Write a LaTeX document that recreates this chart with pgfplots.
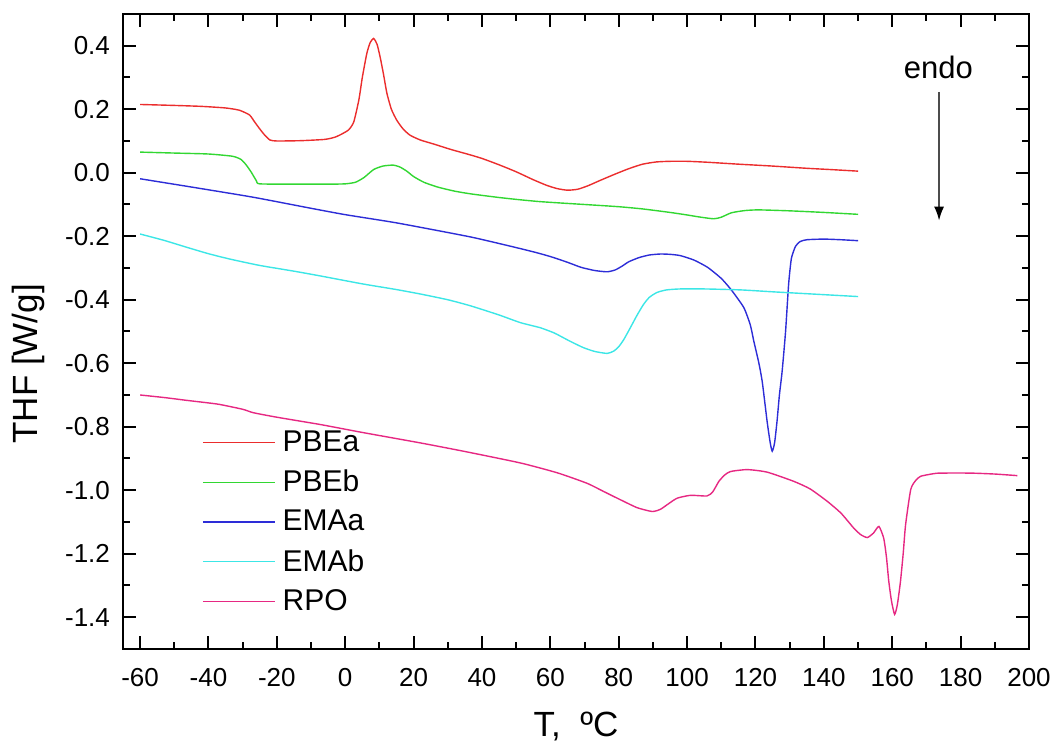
\documentclass[border=0pt]{standalone}
\usepackage{pgfplots}
\pgfplotsset{compat=1.18}
\usepackage{fontspec}
\setmainfont{Liberation Sans}
\usetikzlibrary{arrows.meta}
\definecolor{cPBEa}{RGB}{235,45,45}
\definecolor{cPBEb}{RGB}{50,215,50}
\definecolor{cEMAa}{RGB}{45,45,215}
\definecolor{cEMAb}{RGB}{60,230,230}
\definecolor{cRPO}{RGB}{230,40,130}
\newcommand{\lf}{\fontsize{15}{17}\selectfont}
\begin{document}
\begin{tikzpicture}
\path[use as bounding box] (-61.5pt,-46.5pt) rectangle (464pt,324.5pt);
\begin{axis}[
  at={(0pt,0pt)}, anchor=south west,
  scale only axis, width=453pt, height=317.5pt,
  xmin=-65, xmax=200, ymin=-1.5, ymax=0.5,
  xtick={-60,-40,...,200},
  ytick={-1.4,-1.2,-1.0,-0.8,-0.6,-0.4,-0.2,0.0,0.2,0.4},
  minor x tick num=1, minor y tick num=1,
  xtick pos=both, ytick pos=both,
  tick align=inside,
  major tick length=6.5pt, minor tick length=3.5pt,
  every tick/.style={black, line width=1pt},
  axis line style={line width=1pt},
  /pgf/number format/assume math mode=true,
  yticklabel style={xshift=-3pt, /pgf/number format/fixed, /pgf/number format/fixed zerofill, /pgf/number format/precision=1},
  xticklabel style={yshift=-6pt},
  tick label style={font=\fontsize{13}{15}\selectfont},
  label style={font=\fontsize{17.5}{20}\selectfont},
  xlabel={T,\ \ ºC},
  ylabel={THF [W/g]},
  xlabel style={at={(axis description cs:0.5,-0.1386)}, anchor=base},
  ylabel style={at={(axis description cs:-0.0949,0.449)}, anchor=base},
  legend style={draw=none, fill=none, at={(axis description cs:0.087,0.349)}, anchor=north west,
    nodes={inner sep=1.5pt}, row sep=4.75pt, inner sep=0pt,
    /tikz/every odd column/.append style={column sep=2pt}},
  legend cell align=left,
  legend image code/.code={\draw[#1] (0pt,0pt) -- (36pt,0pt);},
  every axis plot/.append style={line width=0.7pt, smooth, tension=0.35},
  clip=true,
]
\addplot[cPBEa] coordinates {
(-60,0.215) (-50,0.212) (-42,0.209) (-35,0.204) (-31,0.197) (-28,0.182) (-26.5,0.16)
(-25,0.138) (-23.5,0.118) (-22,0.103) (-20,0.100) (-13,0.101) (-6,0.105) (-3,0.112)
(-1,0.122) (1,0.135) (2.5,0.16) (4,0.23) (5,0.30) (6.3,0.375) (7.3,0.41) (8.3,0.423)
(9.3,0.405) (10.2,0.365) (11.2,0.31) (12.2,0.25) (13.5,0.20) (15.1,0.165) (17,0.137)
(19,0.118) (22,0.103) (26,0.09) (31,0.073) (36,0.058) (40,0.045) (45,0.025) (50,0.003)
(55,-0.022) (59,-0.040) (62,-0.050) (65,-0.055) (68,-0.052) (71,-0.041) (74.6,-0.024)
(79,-0.004) (83,0.013) (87,0.027) (91,0.034) (95,0.036) (100,0.036) (106,0.033)
(115,0.027) (125,0.021) (135,0.014) (142,0.010) (150,0.005)
};
\addlegendentry{\lf PBEa}
\addplot[cPBEb] coordinates {
(-60,0.065) (-50,0.062) (-40,0.059) (-33,0.052) (-30.5,0.042) (-29,0.025) (-27.5,0.002)
(-26,-0.025) (-25,-0.035) (-15,-0.036) (-5,-0.036) (0,-0.035) (3,-0.030) (5.5,-0.015)
(8.3,0.010) (11,0.021) (14,0.024) (16,0.018) (18,0.005) (20,-0.012) (23,-0.030)
(27,-0.045) (32,-0.058) (37,-0.067) (45,-0.078) (51,-0.085) (57,-0.091) (64,-0.096)
(70,-0.100) (80,-0.107) (87,-0.114) (95,-0.125) (100,-0.133) (104,-0.140) (107.8,-0.145)
(110,-0.140) (113,-0.126) (117,-0.119) (121,-0.117) (130,-0.120) (140,-0.125) (150,-0.131)
};
\addlegendentry{\lf PBEb}
\addplot[cEMAa] coordinates {
(-60,-0.019) (-45,-0.045) (-27,-0.077) (-10,-0.112) (0,-0.132) (14,-0.156) (25,-0.178)
(37,-0.203) (47,-0.228) (55,-0.249) (60,-0.264) (65,-0.282) (69,-0.298) (73,-0.308)
(76.6,-0.312) (79,-0.306) (81,-0.294) (83,-0.280) (86,-0.267) (89,-0.259) (92.2,-0.256)
(95,-0.257) (98,-0.261) (102,-0.275) (106,-0.298) (110,-0.333) (113,-0.37) (116.6,-0.425)
(118.5,-0.48) (119.5,-0.53) (121,-0.60) (122,-0.66) (123.4,-0.783) (124.3,-0.85)
(124.9,-0.877) (125.6,-0.85) (126.3,-0.783) (127,-0.70) (127.8,-0.625) (128.8,-0.50)
(129.7,-0.35) (130.5,-0.27) (131.7,-0.232) (133,-0.217) (135,-0.211) (140,-0.209)
(145,-0.211) (150,-0.214)
};
\addlegendentry{\lf EMAa}
\addplot[cEMAb] coordinates {
(-60,-0.193) (-53,-0.213) (-46.3,-0.235) (-40,-0.255) (-33.7,-0.272) (-25,-0.292)
(-15,-0.31) (-7.3,-0.325) (5,-0.35) (15,-0.368) (22,-0.382) (30,-0.40) (36.6,-0.419)
(45,-0.448) (51.2,-0.472) (57,-0.488) (61,-0.504) (63,-0.515) (66,-0.532) (69.7,-0.551)
(73,-0.563) (76.6,-0.569) (78.5,-0.562) (80,-0.548) (81.5,-0.525) (83.4,-0.488)
(85.4,-0.448) (87.3,-0.414) (89,-0.392) (91.2,-0.377) (94,-0.369) (98,-0.366)
(105,-0.366) (115.6,-0.369) (125,-0.375) (135,-0.381) (150,-0.39)
};
\addlegendentry{\lf EMAb}
\addplot[cRPO] coordinates {
(-60,-0.700) (-53,-0.708) (-46.3,-0.717) (-40,-0.725) (-36.6,-0.73) (-30,-0.745)
(-26.8,-0.756) (-20,-0.77) (-7.3,-0.793) (5,-0.818) (22,-0.851) (35,-0.878)
(51.2,-0.914) (62,-0.945) (70.7,-0.978) (75.6,-1.004) (80.5,-1.030) (85.4,-1.055)
(89.8,-1.067) (92.2,-1.060) (94.5,-1.043) (97.1,-1.025) (101,-1.016) (105.8,-1.018)
(107.5,-1.005) (109.3,-0.972) (111,-0.952) (112.7,-0.941) (117.6,-0.935) (123.4,-0.943)
(131.2,-0.972) (136,-0.996) (141,-1.035) (145,-1.072) (148.8,-1.12) (150.8,-1.140)
(152.7,-1.149) (154.5,-1.135) (156.1,-1.114) (157.5,-1.151) (158.3,-1.21) (159,-1.288)
(159.8,-1.35) (160.7,-1.391) (161.5,-1.36) (162.4,-1.288) (163.2,-1.20) (163.9,-1.109)
(165.4,-0.998) (166.8,-0.97) (168.3,-0.956) (172,-0.948) (174.1,-0.946) (182.9,-0.946)
(190,-0.949) (196.6,-0.954)
};
\addlegendentry{\lf RPO}
\node[font=\fontsize{15.5}{18}\selectfont] at (axis cs:173.5,0.333) {endo};
\draw[line width=0.9pt, black!70, -{Latex[length=7pt,width=5pt,black]}] (axis cs:173.7,0.255) -- (axis cs:173.7,-0.151);
\end{axis}
\end{tikzpicture}
\end{document}
